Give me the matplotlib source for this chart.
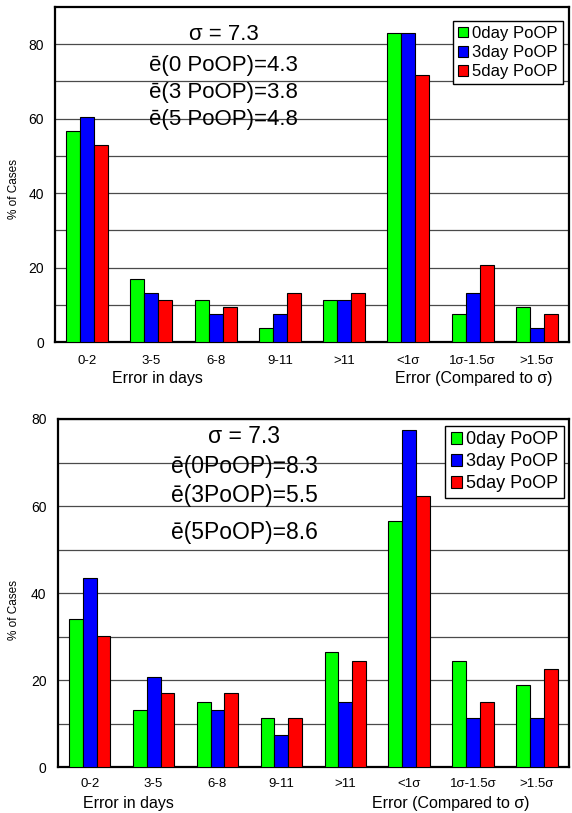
import matplotlib
matplotlib.use('Agg')
import matplotlib.pyplot as plt
import numpy as np

plt.rcParams['font.family'] = ['Liberation Sans', 'DejaVu Sans']

# ---------------- data ----------------
categories = ['0-2', '3-5', '6-8', '9-11', '>11', '<1σ', '1σ-1.5σ', '>1.5σ']
series_labels = ['0day PoOP', '3day PoOP', '5day PoOP']
series_colors = ['#00FF00', '#0000FF', '#FF0000']

top_0day = [56.6, 17.0, 11.3, 3.8, 11.3, 83.0, 7.5, 9.4]
top_3day = [60.4, 13.2, 7.5, 7.5, 11.3, 83.0, 13.2, 3.8]
top_5day = [52.8, 11.3, 9.4, 13.2, 13.2, 71.7, 20.8, 7.5]

bot_0day = [34.0, 13.2, 15.1, 11.3, 26.4, 56.6, 24.5, 18.9]
bot_3day = [43.4, 20.8, 13.2, 7.5, 15.1, 77.4, 11.3, 11.3]
bot_5day = [30.2, 17.0, 17.0, 11.3, 24.5, 62.3, 15.1, 22.6]

top_stats = ['σ = 7.3', 'ē(0 PoOP)=4.3', 'ē(3 PoOP)=3.8', 'ē(5 PoOP)=4.8']
bot_stats = ['σ = 7.3', 'ē(0PoOP)=8.3', 'ē(3PoOP)=5.5', 'ē(5PoOP)=8.6']

ylabel = '% of Cases'
xlabel_left = 'Error in days'
xlabel_right = 'Error (Compared to σ)'

# ---------------- figure ----------------
fig = plt.figure(figsize=(5.72, 8.13), dpi=100)
ax1 = fig.add_axes([55/572, 1-342/813, 514/572, 335/813])
ax2 = fig.add_axes([57.7/572, 1-767.3/813, 511.3/572, 348.3/813])


def draw(ax, series, ymax, stats, stat_x, stat_ys, stat_fs, leg_anchor, leg_fs,
         leg_spacing, tick_pad, ylab_pos, xl_left, xl_right, xl_y):
    x = np.arange(len(categories))
    w = 0.217
    offsets = [-w, 0, w]
    for off, vals, col, lab in zip(offsets, series, series_colors, series_labels):
        ax.bar(x + off, vals, w, color=col, edgecolor='black', linewidth=0.8,
               label=lab, zorder=3)
    ax.set_xlim(-0.5, len(categories) - 0.5)
    ax.set_ylim(0, ymax)
    ax.set_yticks(np.arange(0, ymax + 1, 20))
    ax.set_yticks(np.arange(10, ymax, 10), minor=True)
    ax.grid(axis='y', which='both', color='#4a4a4a', linewidth=0.9, zorder=1)
    ax.set_axisbelow(True)
    ax.tick_params(axis='both', which='both', length=0, labelsize=9.5)
    ax.tick_params(axis='y', pad=8, labelsize=10)
    ax.tick_params(axis='x', pad=tick_pad)
    ax.set_xticks(x, categories)
    for sp in ax.spines.values():
        sp.set_linewidth(1.6)
        sp.set_color('black')
    ax.set_ylabel(ylabel, fontsize=8.5)
    ax.yaxis.set_label_coords(*ylab_pos)
    ax.text(xl_left, xl_y, xlabel_left, transform=ax.transAxes, ha='center',
            va='center', fontsize=11.5)
    ax.text(xl_right, xl_y, xlabel_right, transform=ax.transAxes, ha='center',
            va='center', fontsize=11.5)
    tr = ax.get_yaxis_transform()
    for s, yy in zip(stats, stat_ys):
        ax.text(stat_x, yy, s, transform=tr, ha='center', va='center',
                fontsize=stat_fs, zorder=4)
    leg = ax.legend(loc='upper right', bbox_to_anchor=leg_anchor, fontsize=leg_fs,
                    frameon=True, fancybox=False, edgecolor='black', framealpha=1,
                    borderpad=0.3, labelspacing=leg_spacing, handlelength=0.6,
                    handleheight=0.6, handletextpad=0.25, borderaxespad=0)
    leg.get_frame().set_linewidth(1.0)
    leg.set_zorder(5)


draw(ax1, [top_0day, top_3day, top_5day], 90, top_stats, 0.328,
     [82.5, 74.4, 67.1, 59.8], 16, (0.988, 0.958), 12, 0.25, 9,
     (-0.068, 0.457), 0.200, 0.815, -0.110)
draw(ax2, [bot_0day, bot_3day, bot_5day], 80, bot_stats, 0.365,
     [75.9, 69.0, 62.5, 54.0], 16.5, (0.990, 0.980), 13, 0.28, 8,
     (-0.074, 0.452), 0.1375, 0.769, -0.105)

fig.savefig('out.png', dpi=100)
